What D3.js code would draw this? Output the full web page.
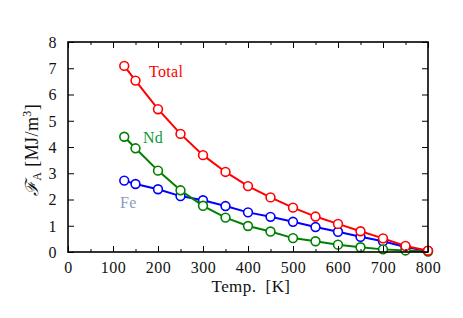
<!DOCTYPE html>
<html><head><meta charset="utf-8">
<script src="https://cdn.jsdelivr.net/npm/d3@7"></script>
<style>body{margin:0;background:#fff}svg{display:block}svg text{font-family:'Liberation Serif',serif !important}</style>
</head><body><svg id="c" width="463" height="318"></svg>
<script>
const temps = [125,150,200,250,300,350,400,450,500,550,600,650,700,750,800];
const total = [7.09,6.53,5.44,4.50,3.69,3.05,2.51,2.08,1.69,1.35,1.07,0.79,0.52,0.23,0.05];
const nd    = [4.39,3.95,3.10,2.35,1.76,1.31,0.99,0.78,0.53,0.41,0.28,0.18,0.10,0.06,0.02];
const fe    = [2.72,2.59,2.39,2.13,1.97,1.75,1.51,1.34,1.15,0.95,0.77,0.58,0.41,0.19,0.04];
const xTicks = [0,100,200,300,400,500,600,700,800];
const xMinor = [50,150,250,350,450,550,650,750];
const yTicks = [0,1,2,3,4,5,6,7,8];
const seriesNames = ["Total","Nd","Fe"];

const svg = d3.select("#c");
const L=68,R=428,T=42,B=252;
const x = d3.scaleLinear().domain([0,800]).range([L,R]);
const y = d3.scaleLinear().domain([0,8]).range([B,T]);

const series = [
  {name:seriesNames[0], vals:total, color:"#ff0000", lab:"#ff0000", lx:149, ly:77},
  {name:seriesNames[1], vals:nd,    color:"#008000", lab:"#109a3a", lx:143, ly:142.5},
  {name:seriesNames[2], vals:fe,    color:"#0000ff", lab:"#8a9cc4", lx:120, ly:208}
];
const order=[2,1,0];
const line = d3.line().x((d,i)=>x(temps[i])).y(d=>y(d));
const g = svg.append("g");
order.forEach(k=>{
  const s=series[k];
  g.append("path").datum(s.vals).attr("d",line).attr("fill","none")
    .attr("stroke",s.color).attr("stroke-width",2);
  g.selectAll(null).data(s.vals).enter().append("circle")
    .attr("cx",(d,i)=>x(temps[i])).attr("cy",d=>y(d)).attr("r",4.4)
    .attr("fill","#fff").attr("stroke",s.color).attr("stroke-width",1.6);
});

svg.append("rect").attr("x",L).attr("y",T).attr("width",R-L).attr("height",B-T)
  .attr("fill","none").attr("stroke","#000").attr("stroke-width",1.6);

const ax = svg.append("g").attr("transform",`translate(0,${B})`)
  .call(d3.axisBottom(x).tickValues(xTicks).tickSize(-6).tickFormat(d3.format("d")));
const axm = svg.append("g").attr("transform",`translate(0,${B})`)
  .call(d3.axisBottom(x).tickValues(xMinor).tickSize(-3).tickFormat(""));
const axt = svg.append("g").attr("transform",`translate(0,${T})`)
  .call(d3.axisTop(x).tickValues(xTicks).tickSize(-6).tickFormat(""));
const axtm = svg.append("g").attr("transform",`translate(0,${T})`)
  .call(d3.axisTop(x).tickValues(xMinor).tickSize(-3).tickFormat(""));
const ay = svg.append("g").attr("transform",`translate(${L},0)`)
  .call(d3.axisLeft(y).tickValues(yTicks).tickSize(-6).tickPadding(11).tickFormat(d3.format("d")));
const ayr = svg.append("g").attr("transform",`translate(${R},0)`)
  .call(d3.axisRight(y).tickValues(yTicks).tickSize(-6).tickFormat(""));
[ax,axm,axt,axtm,ay,ayr].forEach(a=>{
  a.attr("font-family","Liberation Serif");
  a.select(".domain").remove();
  a.selectAll(".tick line").attr("stroke","#000").attr("stroke-width",1);
  a.selectAll("text").attr("font-size",16).attr("fill","#111").style("letter-spacing","0.5px");
});
ax.selectAll("text").attr("dy",null).attr("y",20.5);
ay.selectAll("text").attr("dy","0.34em");

svg.append("text").attr("x",(L+R)/2+3).attr("y",292).attr("text-anchor","middle")
  .attr("font-size",17).attr("fill","#111").style("white-space","pre").style("letter-spacing","0.4px").text("Temp.  [K]");
const yl = svg.append("text").attr("transform",`translate(38,${(T+B)/2+3}) rotate(-90)`)
  .attr("text-anchor","middle").attr("font-size",18).attr("fill","#111").style("letter-spacing","0.4px");
yl.append("tspan").attr("font-style","italic").text("ℱ");
yl.append("tspan").attr("font-size",12).attr("dy",3).text("A");
yl.append("tspan").attr("dy",-3).text(" [MJ/m");
yl.append("tspan").attr("font-size",12).attr("dy",-7).text("3");
yl.append("tspan").attr("dy",7).text("]");

series.forEach(s=>{
  svg.append("text").attr("x",s.lx).attr("y",s.ly).attr("font-size",16)
    .attr("fill",s.lab).style("letter-spacing","0.3px").text(s.name);
});
</script></body></html>
